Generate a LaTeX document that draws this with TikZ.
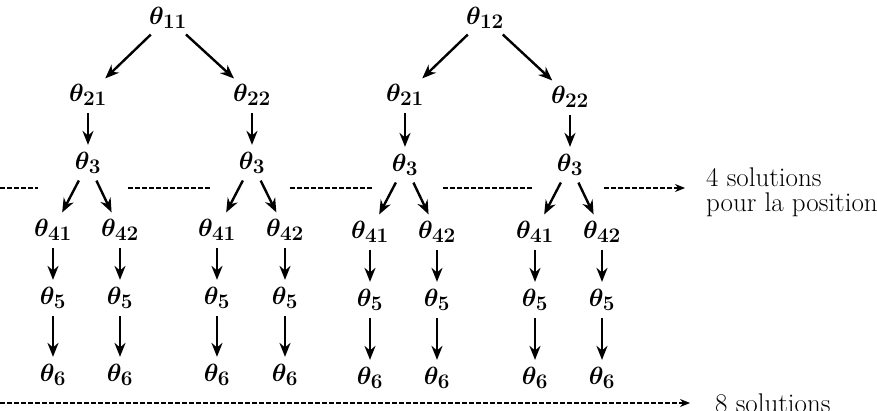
\documentclass[tikz,border=0pt]{standalone}
\usetikzlibrary{arrows.meta}
\begin{document}
\begin{tikzpicture}[x=1pt,y=-1pt,
  th/.style={font=\fontsize{30}{34}\selectfont\boldmath, inner sep=2pt},
  arr/.style={-{Stealth[length=14pt,width=11pt]}, line width=2.4pt, shorten >=5pt, shorten <=5pt},
  dl/.style={dashed, line width=1.3pt, dash pattern=on 5pt off 2pt},
  lbl/.style={font=\fontsize{27}{32}\selectfont, anchor=west, inner sep=0pt}]
\useasboundingbox (0,0) rectangle (877,411);
% tree 1
\node[th] (a11) at (168,18) {$\theta_{11}$};
\node[th] (a21) at (88,95) {$\theta_{21}$};
\node[th] (a22) at (252,95) {$\theta_{22}$};
\node[th] (a3a) at (88,163) {$\theta_3$};
\node[th] (a3b) at (252,163) {$\theta_3$};
\foreach \n/\x/\s in {p/53/41,q/120/42,r/217/41,s/285/42}{
  \node[th] (a4\n) at (\x,230) {$\theta_{\s}$};
  \node[th] (a5\n) at (\x,298) {$\theta_5$};
  \node[th] (a6\n) at (\x,375) {$\theta_6$};
  \draw[arr] (a4\n) -- (a5\n);
  \draw[arr] (a5\n) -- (a6\n);
}
\draw[arr] (a11) -- (a21); \draw[arr] (a11) -- (a22);
\draw[arr] (a21) -- (a3a); \draw[arr] (a22) -- (a3b);
\draw[arr] (a3a) -- (a4p); \draw[arr] (a3a) -- (a4q);
\draw[arr] (a3b) -- (a4r); \draw[arr] (a3b) -- (a4s);
% tree 2
\node[th] (b12) at (485,18) {$\theta_{12}$};
\node[th] (b21) at (405,95) {$\theta_{21}$};
\node[th] (b22) at (570,97) {$\theta_{22}$};
\node[th] (b3a) at (405,165) {$\theta_3$};
\node[th] (b3b) at (570,165) {$\theta_3$};
\foreach \n/\x/\s in {p/370/41,q/437/42,r/535/41,s/602/42}{
  \node[th] (b4\n) at (\x,232) {$\theta_{\s}$};
  \node[th] (b5\n) at (\x,300) {$\theta_5$};
  \node[th] (b6\n) at (\x,378) {$\theta_6$};
  \draw[arr] (b4\n) -- (b5\n);
  \draw[arr] (b5\n) -- (b6\n);
}
\draw[arr] (b12) -- (b21); \draw[arr] (b12) -- (b22);
\draw[arr] (b21) -- (b3a); \draw[arr] (b22) -- (b3b);
\draw[arr] (b3a) -- (b4p); \draw[arr] (b3a) -- (b4q);
\draw[arr] (b3b) -- (b4r); \draw[arr] (b3b) -- (b4s);
% dashed lines
\coordinate (d0) at (0,188); \coordinate (d1) at (38,188);
\coordinate (d2) at (128,188); \coordinate (d3) at (210,188);
\coordinate (d4) at (290,188); \coordinate (d5) at (372,188);
\coordinate (d6) at (443,188); \coordinate (d7) at (532,188);
\coordinate (d8) at (604,188); \coordinate (d9) at (685,188);
\draw[dl] (d0) -- (d1); \draw[dl] (d2) -- (d3);
\draw[dl] (d4) -- (d5); \draw[dl] (d6) -- (d7);
\draw[dl,-{Stealth[length=10pt,width=8pt]}] (d8) -- (d9);
\node[lbl] (t1) at (706,177) {4 solutions};
\node[lbl] (t2) at (706,205) {pour la position};
\coordinate (e0) at (0,403); \coordinate (e1) at (690,403);
\draw[dl,-{Stealth[length=10pt,width=8pt]}] (e0) -- (e1);
\node[lbl] (t3) at (715,403) {8 solutions};
\end{tikzpicture}
\end{document}
